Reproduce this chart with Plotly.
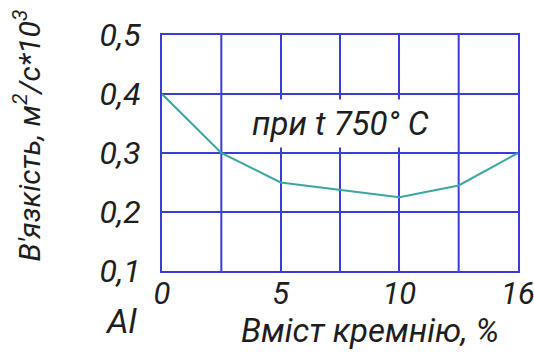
import plotly.graph_objects as go

# Grid columns (0..6) along the silicon-content axis and measured viscosity
col_pos = [0, 1, 2, 4, 5, 6]
viscosity = [0.40, 0.30, 0.25, 0.225, 0.245, 0.30]
x_tick_pos = [0, 2, 4, 6]
x_tick_text = ["0", "5", "10", "16"]
y_tick_vals = [0.1, 0.2, 0.3, 0.4, 0.5]

FONT = "Roboto, sans-serif"
GRID = "#3b3bd6"
LINE = "#3aa6a0"
INK = "#1e1e1e"

fig = go.Figure()
fig.add_trace(go.Scatter(
    x=col_pos, y=viscosity, mode="lines",
    line=dict(color=LINE, width=2),
    hoverinfo="skip", showlegend=False,
))

axis_common = dict(
    showgrid=True, gridcolor=GRID, gridwidth=2,
    showline=True, linecolor=GRID, linewidth=2, mirror=True,
    zeroline=False, ticks="", automargin=False,
)

fig.update_xaxes(range=[0, 6], tickvals=x_tick_pos, ticktext=x_tick_text,
                 ticklabelstandoff=-6, ticklabeloverflow="allow",
                 tickfont=dict(family=FONT, size=31, color=INK, style="italic"),
                 **axis_common)
# extra vertical grid lines at odd columns (no labels)
for c in [1, 3, 5]:
    fig.add_vline(x=c, line=dict(color=GRID, width=2), layer="below")
fig.update_yaxes(range=[0.1, 0.5], tickvals=y_tick_vals,
                 ticktext=[f"{v:.1f}".replace(".", ",") for v in y_tick_vals],
                 ticklabelstandoff=13,
                 tickfont=dict(family=FONT, size=32, color=INK, style="italic"),
                 **axis_common)

txt = dict(family=FONT, color=INK, style="italic")
fig.add_annotation(text="при t 750° C", x=3, y=0.35, xref="x", yref="y",
                   xanchor="center", yanchor="middle", showarrow=False,
                   font=dict(size=33, **txt), bgcolor="white", borderpad=4)
fig.add_annotation(text="В'язкість, м<sup>2</sup>/с*10<sup>3</sup>",
                   x=-0.378, y=0.576, xref="paper", yref="paper", textangle=-90,
                   xanchor="center", yanchor="middle",
                   showarrow=False, font=dict(size=30, **txt))
fig.add_annotation(text="Вміст кремнію, %", x=0.584, y=-0.252, xref="paper", yref="paper",
                   xanchor="center", yanchor="middle",
                   showarrow=False, font=dict(size=33, **txt))
fig.add_annotation(text="Al", x=-0.115, y=-0.212, xref="paper", yref="paper",
                   xanchor="center", yanchor="middle",
                   showarrow=False, font=dict(size=34, **txt))

fig.update_layout(
    width=534, height=354,
    margin=dict(l=162, r=16, t=35, b=83),
    paper_bgcolor="white", plot_bgcolor="white",
)
fig.write_html("out.html")
